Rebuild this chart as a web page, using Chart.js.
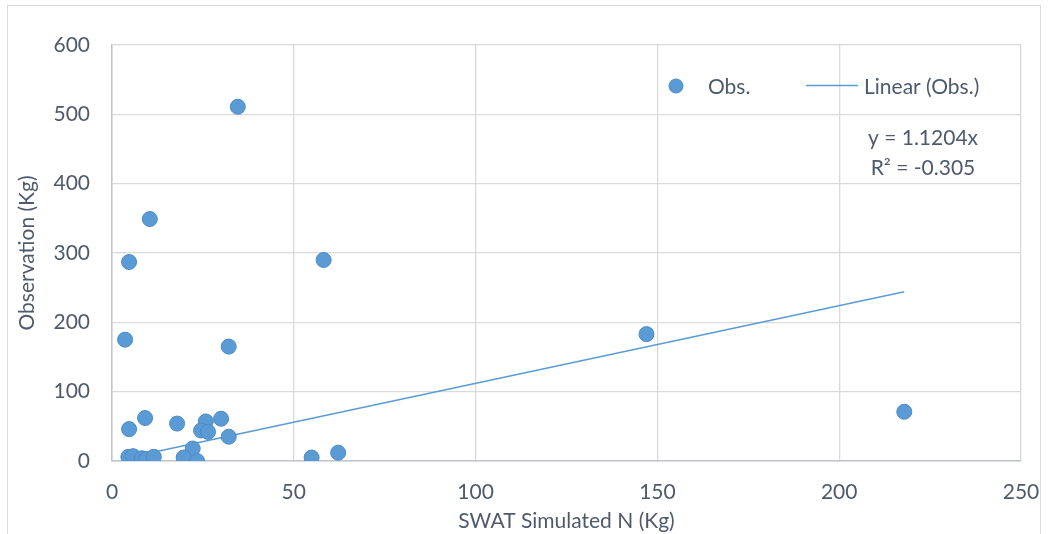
<!DOCTYPE html>
<html>
<head>
<meta charset="utf-8">
<script src="https://cdn.jsdelivr.net/npm/chart.js@4"></script>
<style>
  html, body { margin: 0; padding: 0; background: #fff; }
  #wrap { width: 1048px; height: 534px; position: relative; }
</style>
</head>
<body>
<div id="wrap"><canvas id="chart" width="1048" height="534"></canvas></div>
<script>
const simX = [34.6, 10.4, 4.7, 58.2, 3.6, 32.1, 147, 217.9, 4.7, 9.1, 17.9, 25.8, 30.0, 24.5, 26.4, 32.1, 22.2, 4.5, 5.8, 8.2, 9.4, 11.5, 19.7, 23.4, 54.9, 62.2];
const obsY = [511, 349, 287, 290, 175, 165, 183, 71, 46, 62, 54, 57, 61, 44, 42, 35, 18, 6, 7, 4, 3, 6, 5, 0, 5, 12];
const xTicks = [0, 50, 100, 150, 200, 250];
const yTicks = [0, 100, 200, 300, 400, 500, 600];
const slope = 1.1204;
const equationText = 'y = 1.1204x';
const r2Text = 'R² = -0.305';

const blue = '#5B9BD5';
const textGrey = '#4E5A6C';
const fontFamily = 'Lato, "Open Sans", sans-serif';
const fontSize = 21;

const points = simX.map((x, i) => ({ x: x, y: obsY[i] }));
const minX = Math.min(...simX);
const maxX = Math.max(...simX);
const trend = [{ x: minX, y: slope * minX }, { x: maxX, y: slope * maxX }];

// legend + equation drawn inside the plot, the way Excel lays them out
const excelExtras = {
  id: 'excelExtras',
  beforeDraw(chart) {
    const ctx = chart.ctx;
    ctx.save();
    ctx.strokeStyle = '#D9D9D9';
    ctx.lineWidth = 1;
    ctx.strokeRect(7.5, 5.5, 1033, 540);
    ctx.restore();
  },
  afterDraw(chart) {
    const ctx = chart.ctx;
    ctx.save();
    ctx.font = fontSize + 'px ' + fontFamily;
    ctx.textBaseline = 'middle';

    // Obs. marker
    ctx.beginPath();
    ctx.arc(676, 86, 7, 0, Math.PI * 2);
    ctx.fillStyle = blue;
    ctx.fill();
    ctx.strokeStyle = '#4A8BC8';
    ctx.stroke();
    ctx.fillStyle = textGrey;
    ctx.textAlign = 'left';
    ctx.fillText('Obs.', 708, 87);

    // Linear marker
    ctx.beginPath();
    ctx.moveTo(806, 85.5);
    ctx.lineTo(858, 85.5);
    ctx.strokeStyle = blue;
    ctx.lineWidth = 1.5;
    ctx.stroke();
    ctx.fillText('Linear (Obs.)', 864, 87);

    ctx.textAlign = 'center';
    ctx.fillText(equationText, 923, 138);
    ctx.fillText(r2Text, 923, 168);
    ctx.restore();
  }
};

new Chart(document.getElementById('chart').getContext('2d'), {
  type: 'scatter',
  data: {
    datasets: [
      {
        label: 'Obs.',
        data: points,
        backgroundColor: blue,
        borderColor: '#4A8BC8',
        borderWidth: 1,
        pointRadius: 7.5,
        order: 1
      },
      {
        type: 'line',
        label: 'Linear (Obs.)',
        data: trend,
        borderColor: blue,
        borderWidth: 1.5,
        pointRadius: 0,
        fill: false,
        order: 2
      }
    ]
  },
  options: {
    responsive: false,
    animation: false,
    layout: { padding: { left: 0, top: 45, right: 27, bottom: 0 } },
    plugins: {
      legend: { display: false },
      tooltip: { enabled: false }
    },
    scales: {
      x: {
        type: 'linear',
        min: 0,
        max: 250,
        afterBuildTicks: (axis) => { axis.ticks = xTicks.map(v => ({ value: v })); },
        afterFit: (axis) => {
          axis.height = 73;
          axis.paddingLeft = 0;
          axis.paddingRight = 0;
        },
        grid: { color: '#D9D9D9', lineWidth: 1.3, drawTicks: false },
        border: { color: '#BFC5CE', width: 1.5 },
        ticks: { color: textGrey, font: { family: fontFamily, size: fontSize }, padding: 19 },
        title: {
          display: true,
          text: 'SWAT Simulated N (Kg)',
          color: textGrey,
          font: { family: fontFamily, size: fontSize },
          padding: { top: 0, bottom: 0 }
        }
      },
      y: {
        type: 'linear',
        min: 0,
        max: 600,
        afterBuildTicks: (axis) => { axis.ticks = yTicks.map(v => ({ value: v })); },
        afterFit: (axis) => {
          axis.width = 112;
          axis.paddingTop = 0;
          axis.paddingBottom = 0;
        },
        grid: { color: '#D9D9D9', lineWidth: 1.3, drawTicks: false },
        border: { color: '#BFC5CE', width: 1.5 },
        ticks: { color: textGrey, font: { family: fontFamily, size: fontSize }, padding: 22 },
        title: {
          display: true,
          text: 'Observation (Kg)',
          color: textGrey,
          font: { family: fontFamily, size: fontSize },
          padding: { top: 15, bottom: 0 }
        }
      }
    }
  },
  plugins: [excelExtras]
});
</script>
</body>
</html>
